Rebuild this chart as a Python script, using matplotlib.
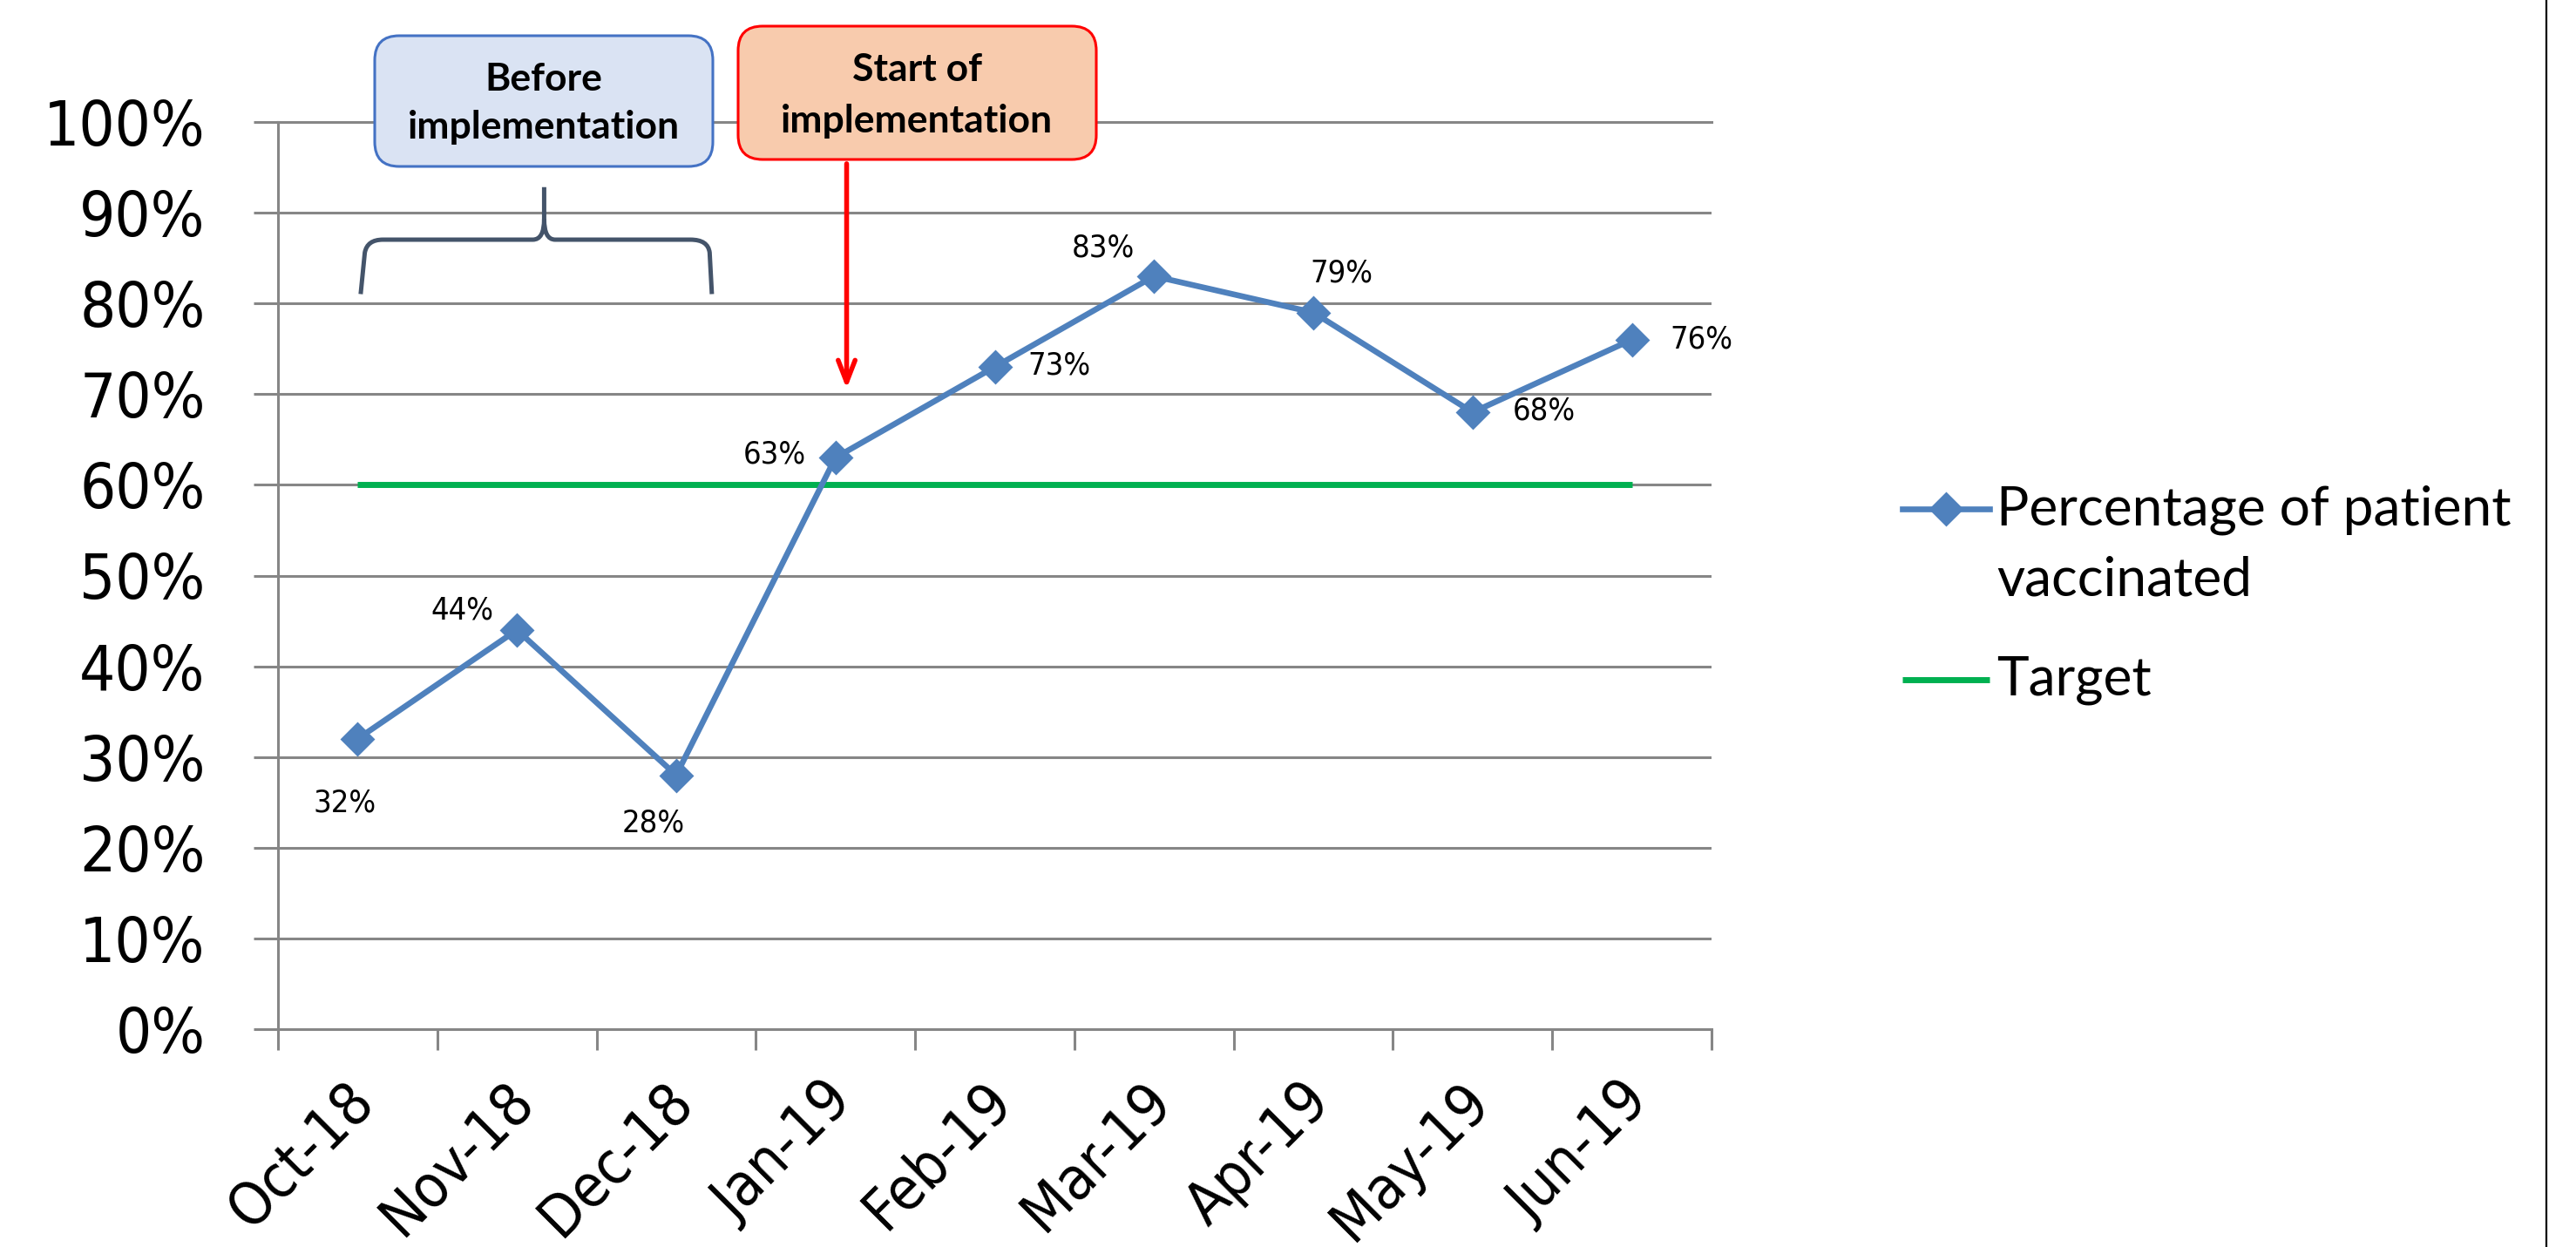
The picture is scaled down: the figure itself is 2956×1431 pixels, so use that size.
import matplotlib
matplotlib.use("Agg")
import matplotlib.pyplot as plt
import matplotlib.transforms as mtransforms
from matplotlib.patches import FancyBboxPatch, PathPatch
from matplotlib.path import Path
from matplotlib.lines import Line2D

months = ["Oct-18", "Nov-18", "Dec-18", "Jan-19", "Feb-19", "Mar-19", "Apr-19", "May-19", "Jun-19"]
vaccinated = [32, 44, 28, 63, 73, 83, 79, 68, 76]
target = [60, 60, 60, 60, 60, 60, 60, 60, 60]
series_names = ["Percentage of patient\nvaccinated", "Target"]
y_ticks = [0, 10, 20, 30, 40, 50, 60, 70, 80, 90, 100]

W, H = 2956, 1431
DPI = 200
fig = plt.figure(figsize=(W / DPI, H / DPI), dpi=DPI)

def fx(px):
    return px / W

def fy(py):
    return 1 - py / H

TICKFONT = dict(family="DejaVu Sans", fontstretch="condensed")

ax = fig.add_axes([fx(319), fy(1181), fx(1964) - fx(319), fy(140) - fy(1181)])
x = list(range(len(months)))
ax.set_xlim(-0.5, len(months) - 0.5)
ax.set_ylim(0, 100)

grey = "#868686"
ax.set_yticks(y_ticks)
ax.set_yticklabels([f"{v}%" for v in y_ticks], fontsize=26, **TICKFONT)
ax.yaxis.grid(True, color=grey, lw=1.1)
ax.set_axisbelow(True)
ax.tick_params(axis="y", length=10, width=1.1, color=grey, pad=20)

ax.set_xticks([i - 0.5 for i in range(len(months) + 1)])
ax.set_xticklabels([])
ax.set_xticks(x, minor=True)
ax.set_xticklabels(months, minor=True, fontsize=24.5, rotation=45, ha="right",
                   va="center", rotation_mode="anchor", **TICKFONT)
ax.tick_params(axis="x", which="major", length=8.6, width=1.1, color=grey)
ax.tick_params(axis="x", which="minor", length=0, pad=26)
shift = mtransforms.ScaledTranslation(3 / 72, 0, fig.dpi_scale_trans)
for lab in ax.get_xticklabels(minor=True):
    lab.set_transform(lab.get_transform() + shift)

ax.spines["right"].set_visible(False)
for s in ["left", "bottom", "top"]:
    ax.spines[s].set_color(grey)
    ax.spines[s].set_linewidth(1.1)

ax.plot(x, target, color="#00B050", lw=2.5, solid_capstyle="butt", zorder=3)
ax.plot(x, vaccinated, color="#4F81BD", lw=2.4, marker="D", markersize=9,
        markerfacecolor="#4F81BD", markeredgecolor="#4F81BD", zorder=4)

offsets = [(-5.5, -26.6), (-22.6, 8.2), (-9.6, -19.8), (-25, 1.4), (26.6, 0.7),
           (-21, 11.6), (11.6, 16.4), (29.4, 0.7), (28.7, 0)]
for xi, v, off in zip(x, vaccinated, offsets):
    ax.annotate(f"{v}%", (xi, v), xytext=off, textcoords="offset points",
                ha="center", va="center", fontsize=13, **TICKFONT)

# legend (drawn manually so the marker sits on the first text line, as in the original)
leg_font = dict(family="Lato", fontsize=22.4)
fig.add_artist(Line2D([fx(2183), fx(2283)], [fy(584), fy(584)], color="#4F81BD",
                      lw=2.4, transform=fig.transFigure))
fig.add_artist(Line2D([fx(2233)], [fy(584)], color="#4F81BD", marker="D",
                      markersize=9, lw=0, transform=fig.transFigure))
fig.add_artist(Line2D([fx(2183), fx(2283)], [fy(780), fy(780)], color="#00B050",
                      lw=2.5, solid_capstyle="butt", transform=fig.transFigure))
name_lines = series_names[0].split("\n")
for t, base in zip(name_lines, [603, 683]):
    fig.text(fx(2291), fy(base), t, ha="left", va="baseline", **leg_font)
fig.text(fx(2291), fy(798), series_names[1], ha="left", va="baseline", **leg_font)

# annotation boxes
def box(x0, y0, x1, y1, fc, ec, lines_text, cx, ty):
    p = FancyBboxPatch((fx(x0), fy(y1)), fx(x1) - fx(x0), fy(y0) - fy(y1),
                       boxstyle="round,pad=0,rounding_size=0.0095",
                       mutation_aspect=W / H, transform=fig.transFigure,
                       fc=fc, ec=ec, lw=1.1)
    fig.patches.append(p)
    for t, yy in zip(lines_text, ty):
        fig.text(fx(cx), fy(yy), t, ha="center", va="center", fontsize=16,
                 family="Lato", weight="bold")

box(430, 41, 818, 191, "#DAE3F3", "#4472C4", ["Before", "implementation"], 624, [91, 146])
box(847, 30, 1258, 183, "#F8CBAD", "#FF0000", ["Start of", "implementation"], 1052, [80, 139])

# red arrow
ax.annotate("", xy=(3.07, 70.6), xytext=(3.07, 95.4), annotation_clip=False,
            arrowprops=dict(arrowstyle="->,head_length=0.9,head_width=0.35",
                            color="#FF0000", lw=2.0, shrinkA=0, shrinkB=0))

# curly brace
verts = [(0.019, 81.03), (0.045, 85.6), (0.06, 87.03), (0.159, 87.03),
         (1.10, 87.03), (1.171, 87.03), (1.171, 89.3), (1.171, 92.82),
         (1.171, 89.3), (1.171, 87.03), (1.24, 87.03), (2.09, 87.03),
         (2.20, 87.03), (2.21, 85.6), (2.224, 81.03)]
codes = [Path.MOVETO, Path.LINETO, Path.CURVE3, Path.CURVE3,
         Path.LINETO, Path.CURVE3, Path.CURVE3, Path.LINETO,
         Path.MOVETO, Path.CURVE3, Path.CURVE3, Path.LINETO,
         Path.CURVE3, Path.CURVE3, Path.LINETO]
brace = PathPatch(Path(verts, codes), fc="none", ec="#44546A", lw=1.8,
                  transform=ax.transData, clip_on=False, zorder=5)
ax.add_patch(brace)

# right border of the chart area
fig.add_artist(Line2D([fx(2922), fx(2922)], [0, 1], color="black", lw=0.8,
                      transform=fig.transFigure))

fig.savefig("out.png", dpi=DPI, facecolor="white")
